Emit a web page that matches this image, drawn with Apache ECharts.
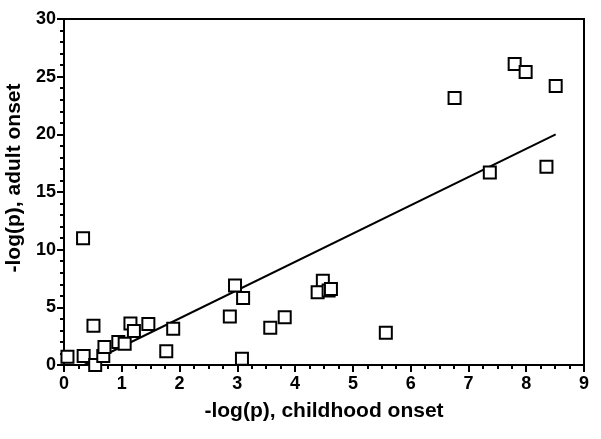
<!DOCTYPE html>
<html>
<head>
<meta charset="utf-8">
<script src="https://cdn.jsdelivr.net/npm/echarts@6/dist/echarts.min.js"></script>
<style>html,body{margin:0;padding:0;background:#fff}#c{width:601px;height:439px}</style>
</head>
<body>
<div id="c"></div>
<script>
var childhood = [0.06, 0.33, 0.34, 0.51, 0.54, 0.68, 0.70, 0.94, 1.05, 1.15, 1.21, 1.46, 1.77, 1.89, 2.87, 2.96, 3.10, 3.08, 3.57, 3.82, 4.48, 4.39, 4.58, 4.62, 5.57, 6.76, 7.37, 7.80, 7.99, 8.51, 8.35];
var adult = [0.72, 11.0, 0.78, 3.4, 0.0, 0.78, 1.55, 2.0, 1.85, 3.6, 2.95, 3.55, 1.2, 3.15, 4.2, 6.9, 5.8, 0.55, 3.24, 4.14, 7.3, 6.3, 6.45, 6.6, 2.8, 23.15, 16.7, 26.1, 25.4, 24.2, 17.2];
var fitX = [0.35, 8.51];
var fitY = [0.0, 20.0];
var xTitle = '-log(p), childhood onset';
var yTitle = '-log(p), adult onset';

var pts = childhood.map(function (x, i) { return [x, adult[i]]; });
var fit = fitX.map(function (x, i) { return [x, fitY[i]]; });

var chart = echarts.init(document.getElementById('c'), null, { renderer: 'canvas' });
var font = 'Liberation Sans, Arial, sans-serif';
var tickLab = { color: '#000', fontFamily: font, fontWeight: 'bold', fontSize: 18 };
var nameLab = { color: '#000', fontFamily: font, fontWeight: 'bold', fontSize: 21 };
chart.setOption({
  animation: false,
  backgroundColor: '#fff',
  grid: { left: 64, right: 17, top: 19, bottom: 74, containLabel: false, outerBoundsMode: 'none', show: true, borderColor: '#000', borderWidth: 2, backgroundColor: 'transparent' },
  xAxis: {
    type: 'value', min: 0, max: 9, interval: 1,
    name: xTitle, nameLocation: 'middle', nameGap: 36,
    nameTextStyle: nameLab,
    axisLine: { show: true, onZero: false, lineStyle: { color: '#000', width: 2 } },
    axisTick: { show: true, length: 7, lineStyle: { color: '#000', width: 2 } },
    minorTick: { show: true, splitNumber: 4, length: 4, lineStyle: { color: '#000', width: 2 } },
    axisLabel: Object.assign({ margin: 10 }, tickLab),
    splitLine: { show: false }
  },
  yAxis: {
    type: 'value', min: 0, max: 30, interval: 5,
    name: yTitle, nameLocation: 'middle', nameGap: 31,
    nameTextStyle: Object.assign({ padding: [0, 0, 0, 28] }, nameLab),
    axisLine: { show: true, onZero: false, lineStyle: { color: '#000', width: 2 } },
    axisTick: { show: true, length: 7, lineStyle: { color: '#000', width: 2 } },
    minorTick: { show: true, splitNumber: 5, length: 4, lineStyle: { color: '#000', width: 2 } },
    axisLabel: Object.assign({ margin: 8 }, tickLab),
    splitLine: { show: false }
  },
  series: [
    {
      type: 'line', data: fit, showSymbol: false, symbol: 'none', z: 1,
      lineStyle: { color: '#000', width: 2 }
    },
    {
      type: 'scatter', data: pts, symbol: 'rect', symbolSize: 12, z: 3,
      itemStyle: { color: '#fff', borderColor: '#000', borderWidth: 2, opacity: 1 }
    }
  ]
});
</script>
</body>
</html>
